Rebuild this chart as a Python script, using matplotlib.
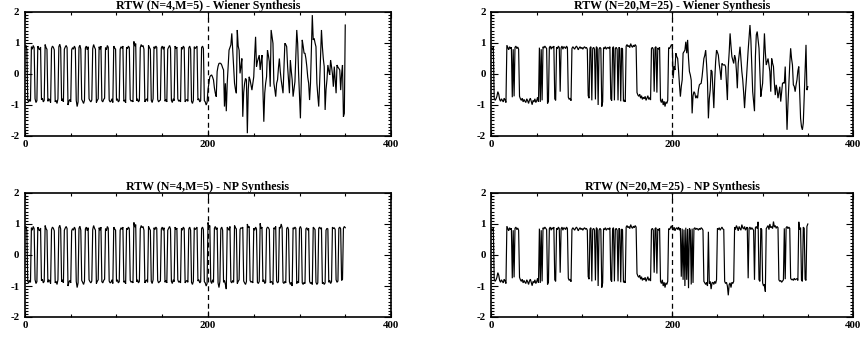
import numpy as np
import matplotlib
matplotlib.use("Agg")
import matplotlib.pyplot as plt
from matplotlib.ticker import MultipleLocator, FixedLocator

# ---------------- data ----------------
# left column (N=4, M=5): training part (0..199) shared by both panels
left_train = [
    0.85, 0.93, 0.80, -0.85, -0.90, -0.82, -0.88,
    0.88, 0.80, 0.92, 0.85, -0.80, -0.92, -0.86,
    0.90, 0.82, 0.78, 0.87, -0.83, -0.78, -0.90, -0.85,
    0.95, 0.85, 0.80, -0.88, -0.80, -0.84, -0.92,
    0.82, 0.90, 0.86, 0.78, -0.90, -0.85, -0.95, -0.80,
    0.88, 0.96, 0.84, -0.86, -0.80, -0.90,
    0.80, 0.87, 0.92, 0.85, -1.00, -0.88, -0.82, -0.90,
    0.78, 0.85, 0.80, 0.90, 0.83, -0.85, -1.05, -0.90,
    0.86, 0.93, 0.80, -0.82, -0.88, -0.95, -0.85,
    0.84, 0.90, 0.78, 0.88, -0.80, -0.86, -0.90, -0.84,
    0.82, 0.95, 0.86, 0.80, -0.92, -0.85, -0.80,
    0.88, 0.80, 0.90, -0.86, -0.90, -0.82, -0.78,
    0.85, 0.78, 0.92, 0.86, -0.84, -0.90, -0.88, -0.80, -0.92,
    0.90, 0.84, 0.80, -0.85, -0.80, -0.90, -0.86,
    0.80, 0.88, 0.83, 0.90, -0.88, -0.84, -0.93,
    0.86, 0.82, 0.90, 0.85, -0.82, -0.88, -0.85, -0.90,
    1.05, 0.90, 0.98, -0.86, -0.80, -0.90, -0.85,
    0.85, 0.95, 0.88, 0.92, 0.80, -0.90, -0.84, -0.80, -0.88,
    0.92, 0.85, 0.80, -0.85, -0.92, -0.80,
    0.88, 0.82, 0.90, 0.86, -0.82, -0.90, -0.86, -0.84,
    0.84, 0.90, 0.80, 0.88, -0.88, -0.82, -0.90,
    0.80, 0.86, 0.92, 0.84, -0.85, -0.92, -0.80, -0.86,
    0.90, 0.82, 0.87, -0.80, -0.88, -0.84, -0.90,
    0.86, 0.80, 0.90, 0.85, -0.90, -0.85, -0.82, -0.88,
    0.84, 0.90, 0.80, -0.88, -0.95, -0.85,
    0.88, 0.82, 0.86, 0.90, -0.84, -0.80, -0.90, -0.86,
    0.85, 0.90, 0.82, -0.86, -0.90, -1.00, -0.92,
]

left_wiener = [
    -0.50, -0.30, -0.09, -0.05, -0.03, -0.10, -0.19, -0.45, -0.62, -0.73,
    0.08, 0.25, 0.34, 0.35, 0.34, 0.29, 0.20, 0.13, -1.05, -0.30,
    -1.20, -0.30, 0.24, 0.77, 0.85, 0.94, 1.31, 0.80, 0.24, -0.30,
    -0.50, -0.62, 1.42, 0.90, 0.77, 0.02, 0.24, 0.50, -1.38, -0.60,
    -0.30, -0.14, -0.19, -1.91, -0.50, -0.09, -0.19, -0.35, -0.52, -0.30,
    -0.09, 0.60, 1.20, 0.24, 0.40, 0.50, 0.61, 0.13, 0.40, 0.61,
    -0.50, -1.54, -0.62, -0.30, -0.09, 0.77, 0.60, 0.40, -0.41, 1.42,
    1.20, 0.99, -0.30, -0.50, -0.73, -0.30, -0.19, 0.20, 0.50, 0.08,
    -0.20, -0.41, -0.62, 0.20, 0.99, 0.95, 0.88, 0.24, -0.20, -0.62,
    0.45, 0.10, -0.19, -0.73, -0.50, -0.25, 0.60, 1.42, 0.99, 0.02,
    -0.70, -1.43, -0.19, 1.10, 0.90, 0.67, 0.67, 0.50, 0.24, -0.10,
    -0.30, -0.84, -0.30, 0.80, 1.90, 1.10, 1.15, 1.00, 0.88, -0.30,
    -0.70, -1.05, -0.30, 0.60, 1.42, 0.88, 0.50, 0.24, -1.16, -0.50,
    -0.19, 0.29, 0.10, -0.03, 0.45, 0.24, 0.00, -0.41, 0.24, -0.20,
    -0.62, 0.29, 0.22, 0.18, 0.13, -0.52, 0.00, 0.29, -1.38, -1.27,
    1.58,
]

left_np = [
    1.05, 0.90, 0.95, -0.85, -0.92, -0.80, -0.88,
    0.86, 0.92, 0.82, 0.88, -0.90, -1.05, -0.85,
    0.84, 0.90, 0.80, -0.88, -0.82, -0.95, -1.10,
    0.90, 0.85, 0.80, 0.92, -0.86, -0.90, -0.82, -0.88,
    0.95, 0.88, 0.84, -0.92, -0.85, -0.80,
    0.82, 0.88, 0.86, 0.90, -0.84, -0.90, -0.95, -0.86,
    1.00, 0.88, 0.92, -0.82, -0.88, -0.85, -0.90,
    0.86, 0.80, 0.90, 0.84, -0.88, -0.92, -0.85,
    1.02, 0.85, 0.90, -0.86, -0.80, -0.92, -0.88,
    0.84, 0.90, 0.88, 0.82, -0.90, -0.85, -0.88, -0.95,
    0.88, 0.84, 0.92, -0.84, -0.90, -0.86,
    0.90, 0.86, 1.00, 0.88, -0.88, -0.92, -0.85, -0.90,
    0.85, 0.90, 0.82, -0.86, -0.95, -0.88, -1.00,
    0.88, 0.84, 0.90, 0.86, -0.92, -0.85, -0.90,
    0.86, 0.92, 0.84, -0.90, -0.95, -0.88, -0.92,
    0.84, 0.88, 0.80, 0.86, -0.85, -0.92, -0.88, -0.95,
    0.90, 0.86, 0.82, -0.88, -0.95, -0.90,
    0.86, 0.90, 0.84, 0.88, -0.92, -0.88, -0.95, -0.90,
    0.80, 0.86, 0.84, -0.88, -0.82, -0.92, -0.86,
    0.90, 0.85, 0.88, 0.82, -0.80, -0.88, -0.84,
    0.86, 0.90, 0.84, -0.82, -0.78, 0.86, 0.92, 0.88,
]

# right column (N=20, M=25)
right_train = [
    0.83, 0.78, 0.86,
    -0.78, -0.85, -0.80, -0.72, -0.57, -0.65, -0.82, -0.88, -0.80, -0.85, -0.90, -0.78, -0.84, -0.92,
    0.93, 0.85, 0.78, 0.88, 0.82, 0.86, -0.75, 0.80, -0.72, 0.86, 0.90, 0.82, 0.87, 0.80,
    -0.72, -0.80, -0.85, -0.78, -0.90, -0.82, -0.88, -0.92, -0.80, -0.86, -0.95,
    -0.84, -0.78, -0.88, -0.99, -0.85, -0.90, -0.80, -0.92, -0.86, -0.75, -0.90,
    0.85, -0.90, 0.80, -0.85, 0.88, 0.84, 0.90, 0.86, 0.82,
    -0.95, -0.88,
    0.85, 0.90, 0.80, 0.88, 0.84, 0.90,
    -0.80, -0.85,
    0.86, 0.82, 0.90, 0.85,
    -0.57,
    0.84, 0.90, 0.80, 0.88, 0.86, 0.82, 0.90, 0.85,
    -0.75, -0.82, -0.78, -0.86,
    0.82, 0.88, 0.84, 0.80, 0.86, 0.90, 0.85, 0.78, 0.84, 0.88, 0.82, 0.86, 0.80, 0.85, 0.88, 0.83, 0.86, 0.80,
    -0.70, -0.78,
    0.84, 0.88,
    -0.85,
    0.82, 0.86, 0.80,
    -0.82,
    0.88, 0.84,
    -1.00,
    0.80, 0.86, 0.82,
    -1.05, -0.90,
    0.85, 0.82, 0.88, 0.80, 0.84, 0.86, 0.82, 0.88,
    -0.80, -0.86,
    0.84, 0.88,
    -0.85,
    0.82, 0.86, 0.80,
    -0.85,
    0.86, 0.82,
    -0.88,
    0.84, 0.80,
    -0.88, -0.84, -0.90,
    0.90, 0.95, 0.88, 0.92, 0.85, 0.98, 0.90, 0.86, 0.93, 0.88, 0.95, 0.90,
    -0.60, -0.68, -0.72, -0.65, -0.78, -0.70, -0.82, -0.75, -0.80, -0.72, -0.85, -0.78, -0.70, -0.82, -0.76, -0.84,
    0.82, 0.86, 0.80, -0.57, 0.85, 0.88, -0.60, 0.84, 0.80, 0.86,
    -0.85, -0.92, -0.80, -1.00, -0.88, -1.05, -0.90, -0.95, -0.85,
    0.85, 0.82, 0.88, 0.94,
]

right_wiener = [
    0.94, -0.14, 0.24, 0.13, 0.67, 0.56, 0.50, 0.10, -0.35, -0.73,
    -0.40, -0.19, 0.67, 0.72, 0.77, 1.04, 0.67, 1.10, 0.50, 0.08,
    -0.03, -0.20, -1.27, -0.70, -0.57, -0.62, -0.78, -0.70, -0.78, -0.50,
    -0.35, -0.32, -0.30, -0.09, 0.20, 0.50, 0.60, 0.77, 0.30, -0.25,
    -1.43, -0.80, -0.52, 0.13, 0.08, -0.50, -1.10, -0.19, 0.40, 0.77,
    0.70, 0.61, 0.30, 0.10, -0.19, 0.34, 0.30, 0.29, 0.30, 0.24,
    -0.30, -0.84, 0.24, 0.70, 1.31, 0.90, 0.56, 0.45, 0.34, 0.61,
    0.50, 0.10, -0.46, 0.34, 0.60, 0.88, 0.50, 0.08, -0.19, -0.60,
    -1.10, -0.60, -0.19, 0.30, 0.77, 1.20, 1.58, 1.10, 0.24, -0.57,
    -0.90, -1.20, 0.56, 1.26, 1.37, 1.10, 0.83, 0.08, -0.73, -0.50,
    -0.30, 0.50, 1.31, 0.70, 0.29, 0.40, 0.50, 0.30, 0.08, -0.57,
    0.50, 0.35, 0.24, -0.30, -0.68, -0.35, -0.50, -0.78, -0.60, -0.41,
    -0.89, -0.60, -0.30, -0.28, -0.30, 0.24, -0.80, -1.80, -1.00, -0.35,
    0.30, 0.83, 0.50, 0.29, -0.35, -0.40, -0.57, -0.35, -0.19, 0.10,
    0.24, -0.60, -1.43, -1.70, -1.80, -1.58, -0.73, 0.10, 0.94, -0.52,
    -0.41,
]

right_np = [
    0.86, 0.80, 0.90, 0.78, 0.85, 0.88, 0.82, 0.90, 0.80, 0.86,
    -0.70, 0.85, -0.80, 0.82, -1.00, 0.88, -0.80, 0.84, -1.07, 0.86, 0.80, -0.95, 0.85, -0.90,
    0.85, 0.88, 0.82, 0.86, 0.84, 0.80, 0.86, 0.82, 0.88, 0.85, 0.80,
    -0.85, -0.90, -0.95, -0.88, -1.00, 0.75, -0.92, -0.85, -1.10, -0.90, -0.88, -0.95, -0.85, -0.92, -0.80,
    0.86, 0.82, 0.88, 0.80, 0.85, 0.90, 0.84, 0.82,
    -0.85, -0.92, -0.88, -1.00, -1.30, -0.95, -0.90, -1.05, -0.88, -0.92, -0.85,
    0.90, 0.82, 0.95, 0.88, 0.78, 0.92, 0.85, 0.80, 0.98, 0.88, 0.84, 0.92, 0.80, 0.86, 0.90,
    -0.75,
    0.86, 0.90, 0.82, 0.88, 0.84, 0.80,
    -0.80,
    0.88, 0.92, 0.85, 1.07,
    -0.80, -0.85,
    0.86, 0.82,
    -0.90, -1.00, -0.95, -1.18,
    0.85, 0.90, 0.95, 0.82, 1.00, 0.88, 0.92, 0.85, 1.08, 0.90, 0.95, 0.86, 0.92, 0.88,
    -0.80, -0.85, -0.82, -0.88, -0.84, -0.80,
    0.86,
    -0.78,
    0.88, 0.92, 0.85, 0.90, 0.86,
    -0.75, -0.80, -0.78, -0.82, -0.75, -0.80, -0.78, -0.76, -0.82,
    1.07, 0.82, 0.88,
    -0.80, -0.85,
    0.90, 0.86,
    -0.78, -0.82,
    0.92, 1.00,
]

assert len(left_train) == 200, len(left_train)
assert len(right_train) == 200, len(right_train)
for _s in (left_wiener, left_np, right_wiener, right_np):
    assert len(_s) == 151, len(_s)

titles = [
    "RTW (N=4,M=5) - Wiener Synthesis",
    "RTW (N=20,M=25) - Wiener Synthesis",
    "RTW (N=4,M=5) - NP Synthesis",
    "RTW (N=20,M=25) - NP Synthesis",
]
x_ticks = [0, 200, 400]
y_ticks = [-2, -1, 0, 1, 2]
split_at = 200

# ---------------- figure ----------------
plt.rcParams['font.family'] = ['Liberation Serif', 'DejaVu Serif']
plt.rcParams['font.weight'] = 'bold'
plt.rcParams['axes.unicode_minus'] = False

W, H = 862, 337
fig = plt.figure(figsize=(W / 100, H / 100), dpi=100)

def rect(left_px, top_px, w_px, h_px):
    return [left_px / W, 1 - (top_px + h_px) / H, w_px / W, h_px / H]

boxes = [
    rect(25, 12, 366, 124),
    rect(491.5, 12, 361.5, 124),
    rect(25, 193, 366, 124),
    rect(491.5, 193, 361.5, 124),
]
series = [
    left_train + left_wiener,
    right_train + right_wiener,
    left_train + left_np,
    right_train + right_np,
]

for box, ys, title in zip(boxes, series, titles):
    ax = fig.add_axes(box)
    xs = np.arange(len(ys))
    ax.plot(xs, ys, color='black', lw=0.85, solid_joinstyle='miter')
    ax.axvline(split_at, color='black', lw=0.9, ls=(0, (4, 3)))
    ax.set_xlim(0, 400)
    ax.set_ylim(-2, 2)
    ax.xaxis.set_major_locator(FixedLocator(x_ticks))
    ax.xaxis.set_minor_locator(MultipleLocator(50))
    ax.yaxis.set_major_locator(FixedLocator(y_ticks))
    ax.yaxis.set_minor_locator(MultipleLocator(0.1))
    ax.tick_params(axis='both', which='both', direction='in', top=True, right=True,
                   width=0.8, colors='black', labelsize=7.8)
    ax.tick_params(axis='x', which='major', length=4, pad=3)
    ax.tick_params(axis='x', which='minor', length=2.2)
    ax.tick_params(axis='y', which='major', length=5, pad=4)
    ax.tick_params(axis='y', which='minor', length=2.5)
    for lab in ax.get_xticklabels() + ax.get_yticklabels():
        lab.set_fontweight('bold')
    for sp in ax.spines.values():
        sp.set_linewidth(1.2)
    ax.set_title(title, fontsize=8.6, fontweight='bold', pad=2)

fig.savefig("out.png", dpi=100)
